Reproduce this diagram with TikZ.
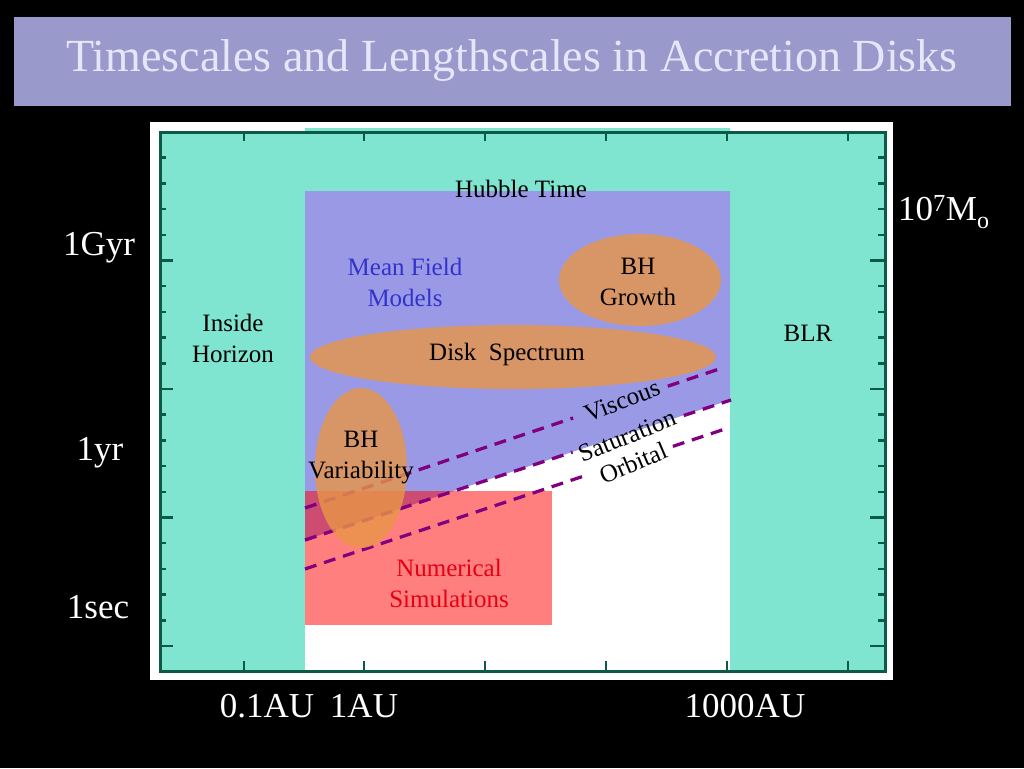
\documentclass[tikz,border=0pt]{standalone}
\usepackage{fontspec}
\setmainfont{Liberation Serif}
\usetikzlibrary{calc}
\definecolor{band}{RGB}{153,153,204}
\definecolor{titletext}{RGB}{230,230,250}
\definecolor{horizonteal}{RGB}{128,229,208}
\definecolor{fieldblue}{RGB}{153,153,230}
\definecolor{diskorange}{RGB}{232,150,70}
\definecolor{axisgreen}{RGB}{10,90,70}
\definecolor{orbitpurple}{RGB}{128,0,128}
\definecolor{meanblue}{RGB}{51,51,204}
\definecolor{simred}{RGB}{230,0,20}
\tikzset{
	lbl/.style={font=\fontsize{25}{31}\selectfont, align=center, inner sep=0pt},
	axlbl/.style={font=\fontsize{35}{40}\selectfont, text=white, inner sep=0pt},
	orbitline/.style={line width=3.3pt, color=orbitpurple, dash pattern=on 12pt off 8pt},
	blob/.style={fill=diskorange, fill opacity=0.8},
	axtick/.style={line width=2.5pt, color=axisgreen}
}
\def\gapline(#1)(#2)(#3:#4){\draw[orbitline] (#1) -- ($(#1)!#3!(#2)$) ($(#1)!#4!(#2)$) -- (#2);}

\begin{document}
\begin{tikzpicture}[x=1pt, y=-1pt]
			%%%%% START %%%%%
			
			\fill[black] (0, 0) rectangle (1024, 768);
			\useasboundingbox (0, 0) rectangle (1024, 768);
			
			\fill[band] (14, 17) rectangle (1011, 106);
			\node[font=\fontsize{46}{50}\selectfont, text=titletext] (title) at (512, 61) {Timescales and Lengthscales in Accretion Disks};
			
			\fill[white] (150, 122) rectangle (893, 680);
			
			\fill[horizonteal] (160, 132) rectangle (305, 671);
			\fill[horizonteal] (730, 132) rectangle (885, 671);
			\fill[horizonteal] (305, 128) rectangle (730, 191);
			
			\fill[fieldblue] (305, 191) -- (730, 191) -- (730, 400) -- (305, 540) -- cycle;
			
			\fill[red, fill opacity=0.5] (305, 491) rectangle (552, 625);
			
			\coordinate (visc0) at (305, 508);
			\coordinate (visc1) at (722, 368);
			\coordinate (satu0) at (305, 540);
			\coordinate (satu1) at (731, 400);
			\coordinate (orbi0) at (305, 569);
			\coordinate (orbi1) at (725, 429);
			\gapline(visc0)(visc1)(0.643:0.87)
			\gapline(satu0)(satu1)(0.628:0.889)
			\gapline(orbi0)(orbi1)(0.662:0.876)
			
			\fill[blob] (361, 468) ellipse (46 and 80);
			\fill[blob] (513, 357) ellipse (203 and 32);
			\fill[blob] (640, 280) ellipse (81 and 46);
			
			\node[lbl] (hubble) at (521, 189) {Hubble Time};
			\node[lbl, text=meanblue] (meanfield) at (405, 282) {Mean Field\\Models};
			\node[lbl] (bhgrowth) at (638, 282) {BH\\Growth};
			\node[lbl] (horizon) at (233, 338) {Inside\\Horizon};
			\node[lbl] (spectrum) at (507, 354) {Disk\ \ Spectrum};
			\node[lbl] (blr) at (808, 333) {BLR};
			\node[lbl] (bhvar) at (361, 458) {BH\\Variability};
			\node[lbl, text=simred] (numsim) at (449, 583) {Numerical\\Simulations};
			\node[lbl, rotate=21] (viscous) at (622, 401) {Viscous};
			\node[lbl, rotate=22] (saturation) at (627, 436) {Saturation};
			\node[lbl, rotate=23] (orbital) at (633, 463) {Orbital};
			
			\draw[line width=3pt, color=axisgreen] (160, 132) rectangle (885, 671);
			
			% top and bottom ticks
			\draw[axtick] (244, 132) -- ++(0, 9) (364, 132) -- ++(0, 9) (485, 132) -- ++(0, 9)
				(606, 132) -- ++(0, 9) (727, 132) -- ++(0, 9) (848, 132) -- ++(0, 9);
			\draw[axtick] (244, 671) -- ++(0, -10) (364, 671) -- ++(0, -10) (485, 671) -- ++(0, -10)
				(606, 671) -- ++(0, -10) (727, 671) -- ++(0, -10) (848, 671) -- ++(0, -10);
			
			% left ticks
			\draw[axtick] (160, 157.7) -- ++(6, 0) (160, 183.4) -- ++(6, 0) (160, 209.1) -- ++(6, 0)
				(160, 234.8) -- ++(6, 0) (160, 260.5) -- ++(13, 0) (160, 286.2) -- ++(6, 0)
				(160, 311.9) -- ++(6, 0) (160, 337.6) -- ++(6, 0) (160, 363.3) -- ++(6, 0)
				(160, 389) -- ++(13, 0) (160, 414.7) -- ++(6, 0) (160, 440.4) -- ++(6, 0)
				(160, 466.1) -- ++(6, 0) (160, 491.8) -- ++(6, 0) (160, 517.5) -- ++(13, 0)
				(160, 543.2) -- ++(6, 0) (160, 568.9) -- ++(6, 0) (160, 594.6) -- ++(6, 0)
				(160, 620.3) -- ++(6, 0) (160, 646) -- ++(13, 0);
			
			% right ticks
			\draw[axtick] (885, 157.7) -- ++(-7, 0) (885, 183.4) -- ++(-7, 0) (885, 209.1) -- ++(-7, 0)
				(885, 234.8) -- ++(-7, 0) (885, 260.5) -- ++(-15, 0) (885, 286.2) -- ++(-7, 0)
				(885, 311.9) -- ++(-7, 0) (885, 337.6) -- ++(-7, 0) (885, 363.3) -- ++(-7, 0)
				(885, 389) -- ++(-15, 0) (885, 414.7) -- ++(-7, 0) (885, 440.4) -- ++(-7, 0)
				(885, 466.1) -- ++(-7, 0) (885, 491.8) -- ++(-7, 0) (885, 517.5) -- ++(-15, 0)
				(885, 543.2) -- ++(-7, 0) (885, 568.9) -- ++(-7, 0) (885, 594.6) -- ++(-7, 0)
				(885, 620.3) -- ++(-7, 0) (885, 646) -- ++(-15, 0);
			
			\node[axlbl] (gyr) at (99, 248) {1Gyr};
			\node[axlbl] (yr) at (100, 453) {1yr};
			\node[axlbl] (sec) at (98, 607) {1sec};
			\node[axlbl] (tenthau) at (267, 706) {0.1AU};
			\node[axlbl] (oneau) at (364, 706) {1AU};
			\node[axlbl] (kau) at (745, 706) {1000AU};
			\node[axlbl, anchor=west] (mass) at (898, 212) {10\textsuperscript{7}M\raisebox{-0.45ex}{\fontsize{24}{24}\selectfont o}};
			
			%%%%% END %%%%%
\end{tikzpicture}
\end{document}
